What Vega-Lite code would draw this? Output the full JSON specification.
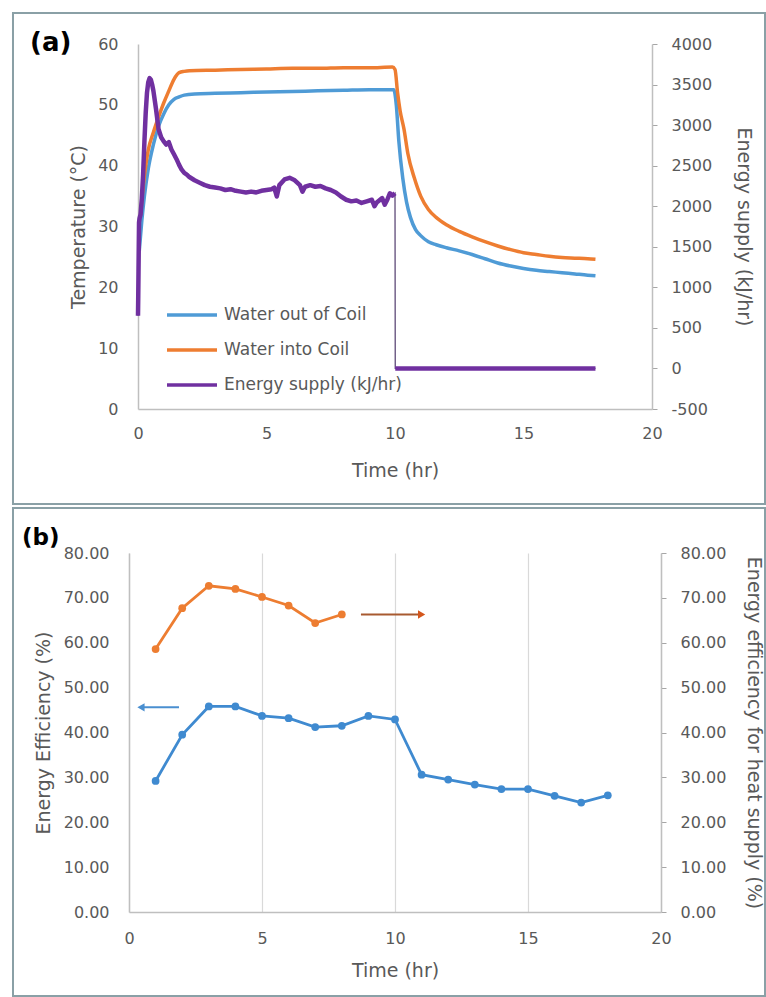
{
  "$schema": "https://vega.github.io/schema/vega-lite/v6.json",
  "background": "white",
  "padding": {"left": 11, "top": 11, "right": 0, "bottom": 0},
  "config": {
    "font": "DejaVu Sans",
    "view": {"stroke": null},
    "axis": {
      "labelFont": "DejaVu Sans", "labelFontSize": 16, "labelColor": "#595959",
      "titleFont": "DejaVu Sans", "titleFontSize": 19, "titleColor": "#595959", "titleFontWeight": "normal",
      "domainColor": "#bfbfbf", "domainWidth": 1.5, "tickColor": "#a6a6a6", "grid": false, "ticks": false, "tickSize": 0
    },
    "legend": {"labelFont": "DejaVu Sans"}
  },
  "datasets": {
    "temp": [
      {"t":0.05,"T":26,"s":"Water out of Coil"},{"t":0.15,"T":31,"s":"Water out of Coil"},{"t":0.25,"T":35,"s":"Water out of Coil"},{"t":0.4,"T":39.5,"s":"Water out of Coil"},{"t":0.6,"T":43.5,"s":"Water out of Coil"},{"t":0.8,"T":46.5,"s":"Water out of Coil"},{"t":1.0,"T":48.5,"s":"Water out of Coil"},{"t":1.2,"T":50,"s":"Water out of Coil"},{"t":1.4,"T":50.9,"s":"Water out of Coil"},{"t":1.6,"T":51.3,"s":"Water out of Coil"},{"t":1.8,"T":51.6,"s":"Water out of Coil"},{"t":2.2,"T":51.8,"s":"Water out of Coil"},{"t":3,"T":51.9,"s":"Water out of Coil"},{"t":4,"T":52.0,"s":"Water out of Coil"},{"t":5,"T":52.1,"s":"Water out of Coil"},{"t":6,"T":52.2,"s":"Water out of Coil"},{"t":7,"T":52.3,"s":"Water out of Coil"},{"t":8,"T":52.4,"s":"Water out of Coil"},{"t":9,"T":52.5,"s":"Water out of Coil"},{"t":9.95,"T":52.5,"s":"Water out of Coil"},{"t":10.05,"T":50,"s":"Water out of Coil"},{"t":10.15,"T":44,"s":"Water out of Coil"},{"t":10.3,"T":38,"s":"Water out of Coil"},{"t":10.45,"T":34,"s":"Water out of Coil"},{"t":10.6,"T":31.5,"s":"Water out of Coil"},{"t":10.8,"T":29.5,"s":"Water out of Coil"},{"t":11,"T":28.5,"s":"Water out of Coil"},{"t":11.3,"T":27.5,"s":"Water out of Coil"},{"t":11.6,"T":27,"s":"Water out of Coil"},{"t":12,"T":26.5,"s":"Water out of Coil"},{"t":12.5,"T":26,"s":"Water out of Coil"},{"t":13,"T":25.4,"s":"Water out of Coil"},{"t":13.5,"T":24.7,"s":"Water out of Coil"},{"t":14,"T":24.0,"s":"Water out of Coil"},{"t":14.5,"T":23.5,"s":"Water out of Coil"},{"t":15,"T":23.1,"s":"Water out of Coil"},{"t":15.5,"T":22.8,"s":"Water out of Coil"},{"t":16,"T":22.6,"s":"Water out of Coil"},{"t":16.5,"T":22.4,"s":"Water out of Coil"},{"t":17,"T":22.2,"s":"Water out of Coil"},{"t":17.5,"T":22.0,"s":"Water out of Coil"},{"t":17.8,"T":21.9,"s":"Water out of Coil"},
      {"t":0.1,"T":32,"s":"Water into Coil"},{"t":0.2,"T":36.5,"s":"Water into Coil"},{"t":0.3,"T":40,"s":"Water into Coil"},{"t":0.4,"T":42.6,"s":"Water into Coil"},{"t":0.6,"T":45.5,"s":"Water into Coil"},{"t":0.8,"T":48,"s":"Water into Coil"},{"t":1.0,"T":50.3,"s":"Water into Coil"},{"t":1.2,"T":52.3,"s":"Water into Coil"},{"t":1.4,"T":54.2,"s":"Water into Coil"},{"t":1.6,"T":55.3,"s":"Water into Coil"},{"t":1.8,"T":55.5,"s":"Water into Coil"},{"t":2.0,"T":55.6,"s":"Water into Coil"},{"t":3,"T":55.7,"s":"Water into Coil"},{"t":4,"T":55.8,"s":"Water into Coil"},{"t":5,"T":55.9,"s":"Water into Coil"},{"t":6,"T":56.0,"s":"Water into Coil"},{"t":7,"T":56.0,"s":"Water into Coil"},{"t":8,"T":56.1,"s":"Water into Coil"},{"t":9,"T":56.1,"s":"Water into Coil"},{"t":9.9,"T":56.2,"s":"Water into Coil"},{"t":10.0,"T":55.8,"s":"Water into Coil"},{"t":10.1,"T":52,"s":"Water into Coil"},{"t":10.2,"T":49,"s":"Water into Coil"},{"t":10.35,"T":46,"s":"Water into Coil"},{"t":10.5,"T":42,"s":"Water into Coil"},{"t":10.75,"T":38,"s":"Water into Coil"},{"t":11,"T":35,"s":"Water into Coil"},{"t":11.3,"T":32.8,"s":"Water into Coil"},{"t":11.6,"T":31.5,"s":"Water into Coil"},{"t":12,"T":30.3,"s":"Water into Coil"},{"t":12.5,"T":29.2,"s":"Water into Coil"},{"t":13,"T":28.3,"s":"Water into Coil"},{"t":13.5,"T":27.5,"s":"Water into Coil"},{"t":14,"T":26.8,"s":"Water into Coil"},{"t":14.5,"T":26.2,"s":"Water into Coil"},{"t":15,"T":25.7,"s":"Water into Coil"},{"t":15.5,"T":25.4,"s":"Water into Coil"},{"t":16,"T":25.1,"s":"Water into Coil"},{"t":16.5,"T":24.9,"s":"Water into Coil"},{"t":17,"T":24.8,"s":"Water into Coil"},{"t":17.5,"T":24.7,"s":"Water into Coil"},{"t":17.8,"T":24.6,"s":"Water into Coil"}
    ],
    "energy": [
      {"t":0.0,"E":650},{"t":0.01,"E":900},{"t":0.02,"E":1200},{"t":0.03,"E":1500},{"t":0.04,"E":1800},{"t":0.06,"E":1850},{"t":0.1,"E":1900},{"t":0.15,"E":2100},{"t":0.2,"E":2400},{"t":0.25,"E":2800},{"t":0.3,"E":3150},{"t":0.35,"E":3400},{"t":0.4,"E":3530},{"t":0.45,"E":3580},{"t":0.5,"E":3560},{"t":0.55,"E":3500},{"t":0.6,"E":3420},{"t":0.7,"E":3200},{"t":0.8,"E":2950},{"t":0.9,"E":2850},{"t":1.0,"E":2800},{"t":1.1,"E":2760},{"t":1.2,"E":2790},{"t":1.3,"E":2700},{"t":1.4,"E":2640},{"t":1.5,"E":2580},{"t":1.6,"E":2510},{"t":1.7,"E":2450},{"t":1.8,"E":2410},{"t":1.9,"E":2390},{"t":2.0,"E":2360},{"t":2.2,"E":2320},{"t":2.4,"E":2290},{"t":2.6,"E":2260},{"t":2.8,"E":2240},{"t":3.0,"E":2230},{"t":3.2,"E":2220},{"t":3.4,"E":2200},{"t":3.6,"E":2210},{"t":3.8,"E":2190},{"t":4.0,"E":2180},{"t":4.2,"E":2170},{"t":4.4,"E":2180},{"t":4.6,"E":2170},{"t":4.8,"E":2190},{"t":5.0,"E":2200},{"t":5.2,"E":2210},{"t":5.3,"E":2230},{"t":5.4,"E":2120},{"t":5.5,"E":2260},{"t":5.7,"E":2330},{"t":5.9,"E":2350},{"t":6.1,"E":2320},{"t":6.3,"E":2260},{"t":6.4,"E":2180},{"t":6.5,"E":2240},{"t":6.7,"E":2260},{"t":6.9,"E":2240},{"t":7.1,"E":2250},{"t":7.3,"E":2220},{"t":7.5,"E":2200},{"t":7.7,"E":2170},{"t":7.9,"E":2120},{"t":8.1,"E":2080},{"t":8.3,"E":2060},{"t":8.5,"E":2070},{"t":8.7,"E":2040},{"t":8.9,"E":2060},{"t":9.1,"E":2080},{"t":9.2,"E":2000},{"t":9.3,"E":2050},{"t":9.5,"E":2100},{"t":9.6,"E":2020},{"t":9.7,"E":2080},{"t":9.8,"E":2160},{"t":9.9,"E":2130},{"t":10.0,"E":2160},{"t":10.01,"E":0},{"t":12,"E":0},{"t":14,"E":0},{"t":16,"E":0},{"t":17.8,"E":0}
    ],
    "eff": [
      {"t":1,"v":29.2,"s":"EE"},{"t":2,"v":39.5,"s":"EE"},{"t":3,"v":45.8,"s":"EE"},{"t":4,"v":45.8,"s":"EE"},{"t":5,"v":43.7,"s":"EE"},{"t":6,"v":43.2,"s":"EE"},{"t":7,"v":41.2,"s":"EE"},{"t":8,"v":41.5,"s":"EE"},{"t":9,"v":43.7,"s":"EE"},{"t":10,"v":42.9,"s":"EE"},{"t":11,"v":30.6,"s":"EE"},{"t":12,"v":29.5,"s":"EE"},{"t":13,"v":28.4,"s":"EE"},{"t":14,"v":27.4,"s":"EE"},{"t":15,"v":27.4,"s":"EE"},{"t":16,"v":25.9,"s":"EE"},{"t":17,"v":24.4,"s":"EE"},{"t":18,"v":26.0,"s":"EE"},
      {"t":1,"v":58.6,"s":"HS"},{"t":2,"v":67.7,"s":"HS"},{"t":3,"v":72.7,"s":"HS"},{"t":4,"v":72.0,"s":"HS"},{"t":5,"v":70.2,"s":"HS"},{"t":6,"v":68.3,"s":"HS"},{"t":7,"v":64.4,"s":"HS"},{"t":8,"v":66.3,"s":"HS"}
    ]
  },
  "concat": [
    {
      "width": 523,
      "height": 365,
      "title": {"text": "(a)", "anchor": "start", "frame": "bounds", "offset": 0, "baseline": "middle", "dx": 18, "dy": 57, "fontSize": 26, "fontWeight": "bold", "color": "black", "font": "DejaVu Sans"},
      "layer": [
        {
          "layer": [
            {
              "data": {"values": [{}]},
              "mark": {"type": "rect", "filled": false, "stroke": "#8aa0a6", "strokeWidth": 2, "clip": false},
              "encoding": {
                "x": {"datum": -4.864, "type": "quantitative", "scale": {"domain": [0, 20], "nice": false, "range": [9, 523]}},
                "x2": {"datum": 24.397},
                "y": {"datum": 65.1, "type": "quantitative", "scale": {"domain": [0, 60], "nice": false}},
                "y2": {"datum": -15.62}
              }
            },
            {
              "data": {"name": "temp"},
              "mark": {"type": "line", "strokeWidth": 3.5, "interpolate": "monotone"},
              "encoding": {
                "x": {"field": "t", "type": "quantitative", "scale": {"domain": [0, 20], "nice": false, "range": [9, 523]},
                      "axis": {"values": [0, 5, 10, 15, 20], "title": "Time (hr)", "labelPadding": 16, "titlePadding": 20, "labelFlush": false}},
                "y": {"field": "T", "type": "quantitative", "scale": {"domain": [0, 60], "nice": false},
                      "axis": {"values": [0, 10, 20, 30, 40, 50, 60], "title": "Temperature (°C)", "labelPadding": 20, "titlePadding": 9, "offset": -9}},
                "color": {"field": "s", "type": "nominal",
                          "scale": {"domain": ["Water out of Coil", "Water into Coil", "Energy supply (kJ/hr)"], "range": ["#4f9bd6", "#ee7d31", "#7030a0"]},
                          "legend": {"orient": "none", "legendX": 36, "legendY": 244, "title": null, "symbolType": "stroke", "symbolSize": 2500, "symbolStrokeWidth": 3.5, "labelFontSize": 17, "labelColor": "#595959", "labelOffset": 5, "labelLimit": 400, "rowPadding": -16, "padding": 0}},
                "detail": {"field": "s"}
              }
            }
          ]
        },
        {
          "data": {"name": "energy"},
          "encoding": {
            "x": {"field": "t", "type": "quantitative"},
            "y": {"field": "E", "type": "quantitative", "scale": {"domain": [-500, 4000], "nice": false},
                  "axis": {"orient": "right", "values": [-500, 0, 500, 1000, 1500, 2000, 2500, 3000, 3500, 4000], "labelExpr": "datum.value < 0 ? '-' + abs(datum.value) : '' + datum.value", "title": "Energy supply (kJ/hr)", "ticks": true, "tickSize": 5, "labelPadding": 14, "titlePadding": 22}}
          },
          "layer": [
            {"mark": {"type": "line", "strokeWidth": 1.3, "color": "#5e4a78"}},
            {"transform": [{"filter": "datum.t <= 10"}, {"calculate": "'Energy supply (kJ/hr)'", "as": "s"}],
             "mark": {"type": "line", "strokeWidth": 4.5, "strokeJoin": "round"},
             "encoding": {"color": {"field": "s", "type": "nominal"}}},
            {"transform": [{"filter": "datum.t > 10"}, {"calculate": "'Energy supply (kJ/hr)'", "as": "s"}],
             "mark": {"type": "line", "strokeWidth": 4.5},
             "encoding": {"color": {"field": "s", "type": "nominal"}}}
          ]
        }
      ],
      "resolve": {"scale": {"y": "independent"}}
    },
    {
      "width": 532,
      "height": 359,
      "title": {"text": "(b)", "anchor": "start", "frame": "bounds", "offset": 0, "baseline": "middle", "dx": 10, "dy": 54, "fontSize": 23, "fontWeight": "bold", "color": "black", "font": "DejaVu Sans"},
      "data": {"name": "eff"},
      "layer": [
        {
          "layer": [
            {
              "data": {"values": [{}]},
              "mark": {"type": "rect", "filled": false, "stroke": "#8aa0a6", "strokeWidth": 2, "clip": false},
              "encoding": {
                "x": {"datum": -4.361, "type": "quantitative", "scale": {"domain": [0, 20], "nice": false}},
                "x2": {"datum": 23.91},
                "y": {"datum": 90.03, "type": "quantitative", "scale": {"domain": [0, 80], "nice": false}},
                "y2": {"datum": -18.72}
              }
            },
            {
              "transform": [{"filter": "datum.s == 'EE'"}],
              "mark": {"type": "line", "strokeWidth": 2.8, "color": "#3f8ad0", "point": {"filled": true, "size": 60, "color": "#3f8ad0"}},
              "encoding": {
                "x": {"field": "t", "type": "quantitative", "scale": {"domain": [0, 20], "nice": false},
                      "axis": {"values": [0, 5, 10, 15, 20], "title": "Time (hr)", "grid": true, "gridColor": "#d9d9d9", "gridWidth": 1.2, "labelPadding": 18, "titlePadding": 15, "labelFlush": false}},
                "y": {"field": "v", "type": "quantitative", "scale": {"domain": [0, 80], "nice": false},
                      "axis": {"values": [0, 10, 20, 30, 40, 50, 60, 70, 80], "format": ".2f", "title": "Energy Efficiency (%)", "labelPadding": 20, "titlePadding": 10}}
              }
            },
            {
              "data": {"values": [{}]},
              "mark": {"type": "rule", "color": "#4a8fd0", "strokeWidth": 2},
              "encoding": {"x": {"datum": 0.5}, "x2": {"datum": 1.88}, "y": {"datum": 45.6}}
            },
            {
              "data": {"values": [{}]},
              "mark": {"type": "point", "shape": "triangle-left", "filled": true, "size": 70, "color": "#4a8fd0", "opacity": 1},
              "encoding": {"x": {"datum": 0.45}, "y": {"datum": 45.6}}
            }
          ]
        },
        {
          "layer": [
            {
              "transform": [{"filter": "datum.s == 'HS'"}],
              "mark": {"type": "line", "strokeWidth": 2.8, "color": "#ed7d31", "point": {"filled": true, "size": 60, "color": "#ed7d31"}},
              "encoding": {
                "x": {"field": "t", "type": "quantitative"},
                "y": {"field": "v", "type": "quantitative", "scale": {"domain": [0, 80], "nice": false},
                      "axis": {"orient": "right", "values": [0, 10, 20, 30, 40, 50, 60, 70, 80], "format": ".2f", "title": "Energy efficiency for heat supply (%)", "ticks": true, "tickSize": 5, "labelPadding": 14, "titlePadding": 18}}
              }
            },
            {
              "data": {"values": [{}]},
              "mark": {"type": "rule", "color": "#a85a30", "strokeWidth": 2},
              "encoding": {"x": {"datum": 8.72}, "x2": {"datum": 10.95}, "y": {"datum": 66.3}}
            },
            {
              "data": {"values": [{}]},
              "mark": {"type": "point", "shape": "triangle-right", "filled": true, "size": 70, "color": "#d4561c", "opacity": 1},
              "encoding": {"x": {"datum": 11.0}, "y": {"datum": 66.3}}
            }
          ]
        }
      ],
      "resolve": {"scale": {"y": "independent"}}
    }
  ],
  "columns": 1,
  "align": "none",
  "spacing": 0,
  "resolve": {"scale": {"color": "independent"}, "legend": {"color": "independent"}}
}
